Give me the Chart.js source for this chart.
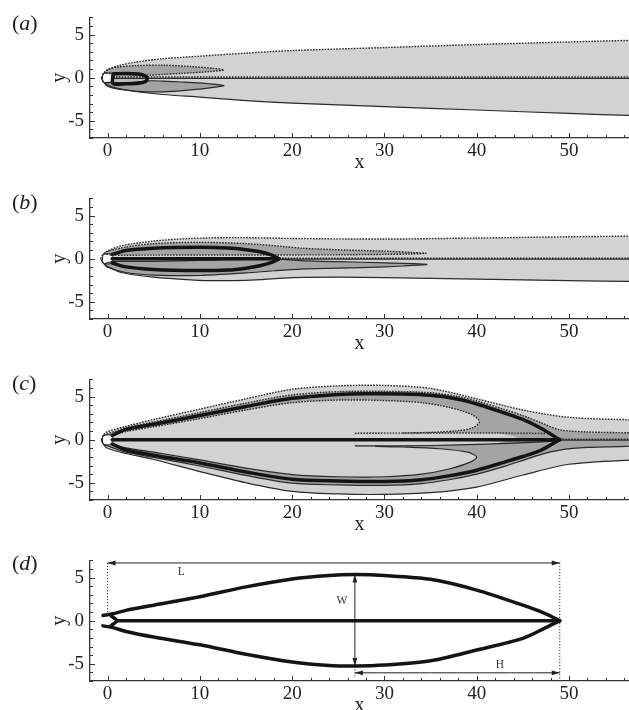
<!DOCTYPE html>
<html>
<head>
<meta charset="utf-8">
<script src="https://cdn.jsdelivr.net/npm/chart.js@4.4.1/dist/chart.umd.min.js"></script>
<style>
  body { margin: 0; background: #fff; width: 629px; height: 710px; overflow: hidden; position: relative; font-family: "Liberation Serif", serif; }
  .panel { position: absolute; left: 0; width: 629px; height: 181px; }
  .tag { position: absolute; left: 12px; font-size: 22px; line-height: 22px; color: #222; }
  .tag i { font-style: italic; }
</style>
</head>
<body>
<div class="panel" style="top:0px"><canvas id="pa" width="629" height="181"></canvas></div>
<div class="panel" style="top:181px"><canvas id="pb" width="629" height="181"></canvas></div>
<div class="panel" style="top:362px"><canvas id="pc" width="629" height="181"></canvas></div>
<div class="panel" style="top:543px"><canvas id="pd" width="629" height="181"></canvas></div>
<div class="tag" style="top:12px">(<i>a</i>)</div>
<div class="tag" style="top:191px">(<i>b</i>)</div>
<div class="tag" style="top:372px">(<i>c</i>)</div>
<div class="tag" style="top:552px">(<i>d</i>)</div>
<script>
// axes
var xRange = [-1.9, 56.5];
var yRange = [-7, 7];
var xTicks = [0, 10, 20, 30, 40, 50];
var yTicks = [-5, 0, 5];

// square body, same in all panels
var body = [[-0.5,0.5],[0.5,0.5],[0.5,-0.5],[-0.5,-0.5]];

// (a) contours
var aEnvTop = [[-0.7,0],[-0.35,0.6],[0,0.9],[1,1.35],[3,1.8],[6,2.2],[10,2.5],[15,2.85],[20,3.15],[30,3.5],[40,3.85],[50,4.15],[57,4.35],[60,4.45]];
var aEnvBot = [[-0.7,0],[-0.35,-0.6],[0,-0.85],[1,-1.2],[3,-1.6],[6,-1.95],[10,-2.25],[15,-2.65],[20,-2.95],[30,-3.35],[40,-3.75],[50,-4.15],[57,-4.4],[60,-4.5]];
var aLobeUp = [[-0.3,0.55],[0,0.95],[1,1.22],[3,1.4],[6,1.45],[9,1.3],[11.5,1.08],[12.6,0.9],[11,0.7],[8,0.5],[6,0.38],[4.5,0.3],[2,0.36],[0.6,0.45],[0,0.5]];
var aLobeDn = [[0,-0.55],[0.6,-0.55],[2,-0.6],[4.5,-0.36],[6,-0.4],[8,-0.5],[11,-0.7],[12.6,-0.9],[11.5,-1.12],[9,-1.42],[6,-1.65],[3,-1.55],[1,-1.3],[0,-1.0],[-0.3,-0.6]];
var aCore = [[0.6,0.45],[2,0.5],[3.3,0.42],[4.1,0.2],[4.3,-0.12],[4.1,-0.45],[3.3,-0.65],[2,-0.7],[0.6,-0.68]];
var aWakeUp = [[0.6,0.08],[60,0.08]];
var aWakeDn = [[0.6,-0.08],[60,-0.08]];

// (b) contours
var bEnvTop = [[-0.75,0],[-0.4,0.6],[0,0.9],[1.5,1.5],[5,2.05],[9,2.35],[14,2.45],[20,2.35],[30,2.28],[40,2.4],[50,2.55],[57,2.62],[60,2.65]];
var bEnvBot = [[-0.75,0],[-0.4,-0.6],[0,-0.9],[1.5,-1.6],[5,-2.15],[9,-2.45],[12,-2.55],[16,-2.45],[20,-2.2],[25,-2.15],[30,-2.2],[40,-2.38],[50,-2.55],[57,-2.65],[60,-2.68]];
var bDarkUp = [[-0.3,0.6],[0,0.85],[2,1.35],[5,1.75],[10,1.9],[15,1.75],[19,1.42],[21,1.22],[26,1.0],[30,0.88],[33,0.72],[34.5,0.62],[33,0.55],[30,0.5],[25,0.45],[15,0.43],[5,0.42],[0.6,0.42]];
var bDarkDn = [[0.6,-0.3],[5,-0.3],[10,-0.2],[13,-0.12],[18.5,-0.06],[21,-0.22],[25,-0.35],[30,-0.48],[34.6,-0.65],[32,-0.85],[30,-0.95],[25,-1.1],[21,-1.2],[18,-1.4],[15,-1.65],[10,-1.95],[5,-1.9],[2,-1.6],[0,-1.0],[-0.3,-0.6]];
var bLoopTop = [[0.5,0.5],[2,0.95],[5,1.22],[10,1.33],[13,1.25],[15,1.05],[16.5,0.8],[17.8,0.42],[18.6,0]];
var bLoopBot = [[0.5,-0.5],[2,-0.95],[5,-1.25],[10,-1.38],[13,-1.32],[15,-1.1],[16.5,-0.82],[17.8,-0.42],[18.6,0]];
var bCenter = [[0.5,0],[18.6,0]];
var bWakeUp = [[18.6,0.06],[60,0.06]];
var bWakeDn = [[18.6,-0.06],[60,-0.06]];

// (c) contours
var cEnvTop = [[-0.7,0],[-0.4,0.6],[0,0.95],[2,1.55],[5,2.35],[10,3.55],[15,4.75],[20,5.85],[25,6.25],[30,6.3],[35,5.95],[40,4.75],[45,3.45],[50,2.6],[57,2.3],[60,2.25]];
var cEnvBot = [[-0.7,0],[-0.4,-0.6],[0,-1.0],[2,-1.6],[5,-2.3],[10,-3.7],[15,-5.0],[20,-6.0],[25,-6.3],[30,-6.35],[35,-6.15],[40,-5.5],[45,-4.1],[50,-2.85],[57,-2.35],[60,-2.3]];
var cDarkTop = [[-0.4,0.55],[0.6,0.9],[2,1.4],[5,2.05],[10,3.15],[15,4.25],[20,5.2],[25,5.58],[30,5.62],[35,5.45],[38,5.0],[40,4.5],[43,3.5],[45,2.8],[47,1.95],[49,1.15],[52,0.9],[57,0.8],[60,0.78]];
var cDarkBot = [[-0.4,-0.55],[0.6,-0.95],[2,-1.45],[5,-2.05],[10,-3.05],[15,-4.15],[20,-5.05],[25,-5.25],[30,-5.3],[34,-5.1],[37,-4.65],[40,-4.0],[43,-3.1],[45,-2.4],[47,-1.7],[49,-1.2],[52,-0.9],[57,-0.75],[60,-0.72]];
var cInnerTop = [[0.6,0.5],[2,0.95],[5,1.5],[10,2.45],[15,3.45],[20,4.3],[25,4.6],[30,4.55],[34,4.3],[37,3.75],[39.5,2.9],[40.3,2.1],[39.6,1.4],[38,1.05],[35,0.85],[32,0.78]];
var cInnerBot = [[0.6,-0.5],[2,-0.95],[5,-1.45],[10,-2.35],[15,-3.3],[20,-4.05],[25,-4.3],[30,-4.3],[34,-4.0],[37,-3.4],[39.3,-2.6],[40,-2.0],[39,-1.45],[36,-1.05],[32,-0.85],[29,-0.78]];
var cSheetTop = [[26.8,0.75],[35,0.77],[42,0.78],[47.5,0.72]];
var cSheetBot = [[26.8,-0.72],[32,-0.72],[38,-0.6],[44,-0.4],[49,-0.15]];
var cBandTop = [[26.8,0.75],[35,0.77],[42,0.78],[44,0.4],[44.5,0.03],[26.8,0.03]];
var cBandBot = [[26.8,-0.72],[32,-0.72],[38,-0.6],[42,-0.45],[43,-0.03],[26.8,-0.03]];
var cLoopTop = [[0.5,0.5],[2,1.2],[5,1.8],[10,2.8],[15,3.85],[20,4.8],[25,5.25],[28,5.33],[32,5.3],[35,5.15],[38,4.7],[40,4.15],[43,3.1],[45,2.35],[47,1.3],[49,0]];
var cLoopBot = [[0.5,-0.5],[2,-1.2],[5,-1.8],[10,-2.7],[15,-3.75],[20,-4.6],[25,-4.8],[30,-4.85],[34,-4.65],[37,-4.2],[40,-3.55],[43,-2.6],[45,-1.95],[47,-1.2],[49,0]];
var cCenter = [[0.5,0],[49,0]];
var cWakeUp = [[49,0.06],[60,0.06]];
var cWakeDn = [[49,-0.06],[60,-0.06]];

// (d) outline and dimensions
var dLoopTop = [[-0.5,0.6],[0.6,0.8],[2,1.2],[5,1.8],[10,2.78],[15,3.93],[20,4.85],[24,5.25],[26.8,5.35],[30,5.25],[35,4.8],[40,3.55],[45,1.8],[47.5,0.8],[49,0]];
var dLoopBot = [[-0.5,-0.6],[0.6,-0.8],[2,-1.25],[5,-1.9],[10,-2.8],[15,-3.9],[20,-4.8],[24,-5.2],[26.8,-5.26],[30,-5.15],[35,-4.65],[40,-3.4],[45,-2.05],[47.5,-0.8],[49,0]];
var dNose = [[0.4,0.55],[1.0,0],[0.4,-0.55]];
var dCenter = [[1.0,0],[49,0]];
var dimL = [[0,6.7],[49,6.7]];
var dimW = [[26.8,5.35],[26.8,-5.26]];
var dimH = [[26.8,-6.05],[49,-6.05]];
var guideL = [[0,6.7],[0,0.95]];
var guideR = [[49,6.7],[49,-7]];
var guideH = [[26.8,-5.3],[26.8,-6.6]];
var dNotes = [{text:'L', x:8, y:5.7}, {text:'W', x:25.4, y:2.3}, {text:'H', x:42.5, y:-5.1}];

var LIGHT = '#d2d2d2', DARK = '#a4a4a4', CORE = '#bdbdbd';
var DOT = {borderColor:'#2a2a2a', borderWidth:1.4, borderDash:[1.6,1.3]};
var SOLID = {borderColor:'#2a2a2a', borderWidth:1.2};
var THICK = {borderColor:'#141414', borderWidth:3.5, borderCapStyle:'round', borderJoinStyle:'round'};
var THIN = {borderColor:'#222', borderWidth:1};
var GUIDE = {borderColor:'#333', borderWidth:1, borderDash:[1.2,1.8]};

Chart.defaults.font.family = '"Liberation Serif", "DejaVu Serif", serif';
Chart.defaults.color = '#222';

function P(pts) { return pts.map(function (p) { return {x: p[0], y: p[1]}; }); }
function rev(pts) { return pts.slice().reverse(); }
function area(pts, color) {
  return {data: P(pts), fill: 'shape', backgroundColor: color, borderWidth: 0, pointRadius: 0, tension: 0.3};
}
function curve(pts, st, closed) {
  var d = closed ? pts.concat([pts[0]]) : pts;
  return Object.assign({data: P(d), fill: false, pointRadius: 0, tension: 0.3}, st);
}

// small inward ticks along both axes
var minorTicks = {
  id: 'minorTicks',
  afterDraw: function (chart) {
    var ctx = chart.ctx, x = chart.scales.x, y = chart.scales.y, a = chart.chartArea;
    ctx.save();
    ctx.strokeStyle = '#333';
    ctx.lineWidth = 1;
    ctx.beginPath();
    for (var v = 0; v <= x.max; v += 2) {
      var px = Math.round(x.getPixelForValue(v)) + 0.5;
      var len = v % 10 === 0 ? 5 : 3;
      ctx.moveTo(px, a.bottom);
      ctx.lineTo(px, a.bottom - len);
    }
    for (var w = Math.ceil(y.min); w <= y.max; w += 1) {
      var py = Math.round(y.getPixelForValue(w)) + 0.5;
      var l2 = w % 5 === 0 ? 5 : 3;
      ctx.moveTo(a.left, py);
      ctx.lineTo(a.left + l2, py);
    }
    ctx.stroke();
    ctx.restore();
  }
};

// arrow heads on datasets flagged with arrows:true
var arrowHeads = {
  id: 'arrowHeads',
  afterDatasetsDraw: function (chart) {
    var ctx = chart.ctx;
    chart.data.datasets.forEach(function (ds, i) {
      if (!ds.arrows) return;
      var pts = chart.getDatasetMeta(i).data;
      var ends = [[pts[1], pts[0]], [pts[pts.length - 2], pts[pts.length - 1]]];
      ends.forEach(function (e) {
        var ang = Math.atan2(e[1].y - e[0].y, e[1].x - e[0].x);
        ctx.save();
        ctx.translate(e[1].x, e[1].y);
        ctx.rotate(ang);
        ctx.fillStyle = '#222';
        ctx.beginPath();
        ctx.moveTo(0, 0);
        ctx.lineTo(-8, -2.4);
        ctx.lineTo(-8, 2.4);
        ctx.closePath();
        ctx.fill();
        ctx.restore();
      });
    });
  }
};

function notesPlugin(items) {
  return {
    id: 'notes',
    afterDatasetsDraw: function (chart) {
      var ctx = chart.ctx, x = chart.scales.x, y = chart.scales.y;
      ctx.save();
      ctx.fillStyle = '#333';
      ctx.font = '11.5px "Liberation Serif", serif';
      ctx.textAlign = 'center';
      ctx.textBaseline = 'middle';
      items.forEach(function (n) {
        ctx.fillText(n.text, x.getPixelForValue(n.x), y.getPixelForValue(n.y));
      });
      ctx.restore();
    }
  };
}

function panel(id, layers, notes) {
  new Chart(document.getElementById(id), {
    type: 'line',
    data: { datasets: layers.slice().reverse() },
    options: {
      responsive: false,
      animation: false,
      events: [],
      layout: { padding: { top: 8, left: 0, right: 0, bottom: 0 } },
      plugins: { legend: { display: false }, tooltip: { enabled: false } },
      scales: {
        x: {
          type: 'linear', min: xRange[0], max: xRange[1],
          afterBuildTicks: function (s) { s.ticks = xTicks.map(function (v) { return {value: v}; }); },
          afterFit: function (s) { s.height = 43; },
          grid: { drawOnChartArea: false, drawTicks: false },
          border: { color: '#333', width: 1.3 },
          ticks: { padding: 2, maxRotation: 0, color: '#222', font: { size: 19 } },
          title: { display: true, text: 'x', color: '#222', font: { size: 20 }, padding: { top: 0, bottom: 6 } }
        },
        y: {
          type: 'linear', min: yRange[0], max: yRange[1],
          afterBuildTicks: function (s) { s.ticks = yTicks.map(function (v) { return {value: v}; }); },
          afterFit: function (s) { s.width = 90; },
          grid: { drawOnChartArea: false, drawTicks: false },
          border: { color: '#333', width: 1.3 },
          ticks: { padding: 6, color: '#222', font: { size: 19 } },
          title: { display: true, text: 'y', color: '#222', font: { size: 20 }, padding: { top: 48, bottom: 0 } }
        }
      }
    },
    plugins: [minorTicks, arrowHeads, notesPlugin(notes || [])]
  });
}

// (a)
panel('pa', [
  area(aEnvTop.concat(rev(aEnvBot)), LIGHT),
  area(aLobeUp, DARK),
  area(aLobeDn, DARK),
  area(aCore, CORE),
  area(body, '#ffffff'),
  curve(aEnvTop, DOT),
  curve(aEnvBot, SOLID),
  curve(aLobeUp, DOT, true),
  curve(aLobeDn, SOLID, true),
  curve(aWakeUp, DOT),
  curve(aWakeDn, SOLID),
  curve(aCore, THICK, true),
  curve(body, THIN, true)
]);

// (b)
panel('pb', [
  area(bEnvTop.concat(rev(bEnvBot)), LIGHT),
  area(bDarkUp, DARK),
  area(bDarkDn, DARK),
  area(body, '#ffffff'),
  curve(bEnvTop, DOT),
  curve(bEnvBot, SOLID),
  curve(bDarkUp, DOT, true),
  curve(bDarkDn, SOLID, true),
  curve(bWakeUp, DOT),
  curve(bWakeDn, SOLID),
  curve(bLoopTop, THICK),
  curve(bLoopBot, THICK),
  curve(bCenter, THICK),
  curve(body, THIN, true)
]);

// (c)
panel('pc', [
  area(cEnvTop.concat(rev(cEnvBot)), LIGHT),
  area(cDarkTop.concat(rev(cDarkBot)), DARK),
  area(cInnerTop.concat([[26.8,0.75],[26.8,0.03],[0.6,0.03]]), LIGHT),
  area(cInnerBot.concat([[26.8,-0.72],[26.8,-0.03],[0.6,-0.03]]), LIGHT),
  area(cBandTop, LIGHT),
  area(cBandBot, LIGHT),
  area(body, '#ffffff'),
  curve(cEnvTop, DOT),
  curve(cEnvBot, SOLID),
  curve(cDarkTop, DOT),
  curve(cDarkBot, SOLID),
  curve(cInnerTop, DOT),
  curve(cInnerBot, SOLID),
  curve(cSheetTop, DOT),
  curve(cSheetBot, SOLID),
  curve(cWakeUp, DOT),
  curve(cWakeDn, SOLID),
  curve(cLoopTop, THICK),
  curve(cLoopBot, THICK),
  curve(cCenter, THICK),
  curve(body, THIN, true)
]);

// (d)
panel('pd', [
  curve(guideL, GUIDE),
  curve(guideR, GUIDE),
  curve(guideH, GUIDE),
  Object.assign(curve(dimL, THIN), {arrows: true}),
  Object.assign(curve(dimW, THIN), {arrows: true}),
  Object.assign(curve(dimH, THIN), {arrows: true}),
  curve(dLoopTop, THICK),
  curve(dLoopBot, THICK),
  curve(dNose, THICK),
  curve(dCenter, THICK)
], dNotes);
</script>
</body>
</html>
